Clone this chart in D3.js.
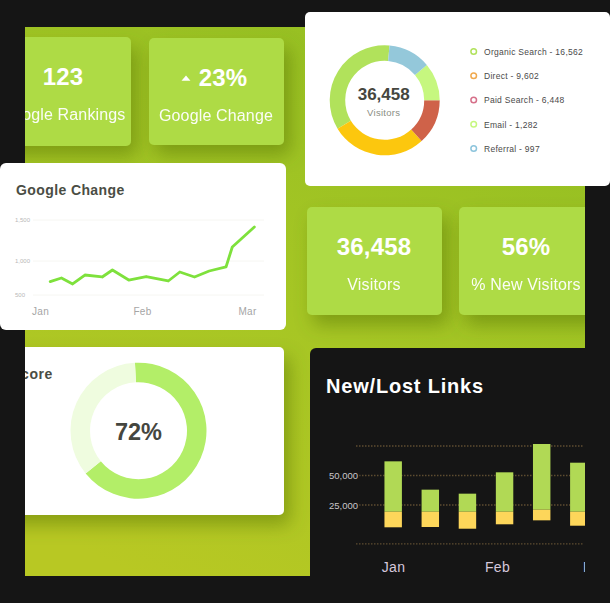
<!DOCTYPE html>
<html><head><meta charset="utf-8">
<script src="https://cdnjs.cloudflare.com/ajax/libs/d3/7.8.5/d3.min.js"></script>
<style>
html,body{margin:0;padding:0;background:#151515;overflow:hidden}
svg{display:block}
text{font-family:"Liberation Sans",Arial,sans-serif}
.axis path{display:none}
</style></head><body>
<svg id="c" width="610" height="603"></svg>
<script>
// ---- data ----
const kpiValues = ["123","23%","36,458","56%"];
const kpiLabels = ["Google Rankings","Google Change","Visitors","% New Visitors"];

const trafficSources = ["Organic Search","Direct","Paid Search","Email","Referral"];
const trafficLegendValues = ["16,562","9,602","6,448","1,282","997"];
const trafficSliceShares = [35,28.1,13.3,11.1,12.5];
const trafficColors = ["#b1e25b","#fcc70e","#cf6249","#c6f77f","#94c8da"];
const trafficRingColors = ["#b1e25b","#f0a94e","#d6708a","#c6f77f","#8cc4dc"];

const changeDay = [0.1,0.21,0.32,0.44,0.61,0.71,0.87,1.04,1.25,1.36,1.5,1.64,1.8,1.86,2.07];
const changeValue = [696,750,662,794,765,868,720,772,706,838,765,853,912,1171,1415];
const changeTicks = [500,1000,1500];
const changeMonths = ["Jan","Feb","Mar"];

const scoreLabel = "72%";
const scoreSliceShare = [65,35];

const linkWeeks = ["w1","w2","w3","w4","w5","w6"];
const linkTop = [62000,38000,34600,52700,76700,60850];
const linkMid = [19300,19300,19300,19300,21000,19300];
const linkBottom = [6100,6350,4900,8650,12000,7450];
const linkGrid = [-8000,25000,50000,75000];
const linkTickValues = [25000,50000];
const linkMonths = ["Jan","Feb","Mar"];

// ---- canvas ----
const svg = d3.select("#c");
const defs = svg.append("defs");
const g = defs.append("linearGradient").attr("id","panel").attr("x1",0.7).attr("y1",0).attr("x2",0.2).attr("y2",1);
g.append("stop").attr("offset",0).attr("stop-color","#95bf22");
g.append("stop").attr("offset",0.5).attr("stop-color","#a6c624");
g.append("stop").attr("offset",1).attr("stop-color","#b8c823");
const f = defs.append("filter").attr("id","sh").attr("x","-30%").attr("y","-30%").attr("width","170%").attr("height","170%");
f.append("feDropShadow").attr("dx",6).attr("dy",10).attr("stdDeviation",9).attr("flood-color","#4d6a10").attr("flood-opacity",0.45);
const clip = (id,x,y,w,h)=>defs.append("clipPath").attr("id",id).append("rect").attr("x",x).attr("y",y).attr("width",w).attr("height",h);
clip("panelClip",25,27,560,549);
clip("barClip",310,348,275,255);

svg.append("rect").attr("width",610).attr("height",603).attr("fill","#151515");
const panel = svg.append("g").attr("clip-path","url(#panelClip)");
panel.append("rect").attr("x",25).attr("y",27).attr("width",560).attr("height",549).attr("fill","url(#panel)");

// ---- KPI tiles ----
const tiles = [
 {x:-20,y:37,w:151,h:109,cx:63},
 {x:149,y:38,w:135,h:107,cx:216},
 {x:307,y:207,w:135,h:108,cx:374},
 {x:459,y:207,w:160,h:108,cx:526}
];
tiles.forEach((t,i)=>{
  panel.append("rect").attr("x",t.x).attr("y",t.y).attr("width",t.w).attr("height",t.h).attr("rx",5)
    .attr("fill","#aedb45").attr("filter","url(#sh)");
  const vx = i===1 ? 223 : t.cx;
  panel.append("text").attr("x",vx).attr("y",t.y+48).attr("text-anchor","middle")
    .attr("fill","#fff").attr("font-size",24).attr("font-weight","bold").attr("letter-spacing",0.2).text(kpiValues[i]);
  panel.append("text").attr("x",t.cx).attr("y",t.y+83).attr("text-anchor","middle")
    .attr("fill","#fff").attr("font-size",16).attr("letter-spacing",0.15).attr("opacity",0.95).text(kpiLabels[i]);
});
panel.append("path").attr("d",d3.symbol(d3.symbolTriangle,26)()).attr("transform","translate(186,79) scale(1.15,.8)").attr("fill","#fff");

// ---- white score card ----
panel.append("rect").attr("x",-10).attr("y",347).attr("width",294).attr("height",168).attr("rx",5).attr("fill","#fff").attr("filter","url(#sh)");
panel.append("text").attr("x",53).attr("y",379).attr("text-anchor","end").attr("font-size",14).attr("font-weight","bold")
  .attr("letter-spacing",0.6).attr("fill","#4a4d44").text("Score");
const scoreG = panel.append("g").attr("transform","translate(138.5,430.7)");
const scoreArc = d3.arc().innerRadius(48.5).outerRadius(68);
const scorePie = d3.pie().sort(null).startAngle(-3*Math.PI/180).endAngle(2*Math.PI-3*Math.PI/180);
scoreG.selectAll("path").data(scorePie(scoreSliceShare)).join("path")
  .attr("d",scoreArc).attr("fill",(d,i)=>["#b3ee68","#effcdf"][i]);
scoreG.append("text").attr("y",9).attr("text-anchor","middle").attr("font-size",23.5).attr("font-weight","bold").attr("fill","#45463f").text(scoreLabel);

// ---- dark links card ----
svg.append("rect").attr("x",310).attr("y",348).attr("width",310).attr("height",270).attr("rx",6).attr("fill","#151515");
const bars = svg.append("g").attr("clip-path","url(#barClip)");
bars.append("text").attr("x",326).attr("y",393).attr("font-size",20).attr("font-weight","bold").attr("letter-spacing",0.8).attr("fill","#fff").text("New/Lost Links");

const yLinks = d3.scaleLinear().domain([25000,50000]).range([505,475.5]);
const xLinks = d3.scaleBand().domain(linkWeeks).range([374.8,597.2]).paddingInner(0.53).paddingOuter(0.26);
const xLinkMonths = d3.scaleOrdinal().domain(linkMonths).range([393,497,595]);

bars.append("g").selectAll("line").data(linkGrid).join("line")
  .attr("x1",356).attr("x2",584).attr("y1",d=>yLinks(d)).attr("y2",d=>yLinks(d))
  .attr("stroke","#5d4c30").attr("stroke-width",1.3).attr("stroke-dasharray","1.5 1.5");

const ya = bars.append("g").attr("class","axis").attr("transform","translate(358,0)")
  .call(d3.axisLeft(yLinks).tickValues(linkTickValues).tickSize(0).tickPadding(0).tickFormat(d3.format(",")));
ya.selectAll("text").attr("font-size",9.5).attr("fill","#c9c5c9").style("paint-order","stroke").attr("stroke","#151515").attr("stroke-width",3);

bars.selectAll("rect.new").data(linkWeeks).join("rect").attr("class","new")
  .attr("x",d=>xLinks(d)).attr("width",xLinks.bandwidth())
  .attr("y",(d,i)=>yLinks(linkTop[i])).attr("height",(d,i)=>yLinks(linkMid[i])-yLinks(linkTop[i])).attr("fill","#b1d955");
bars.selectAll("rect.lost").data(linkWeeks).join("rect").attr("class","lost")
  .attr("x",d=>xLinks(d)).attr("width",xLinks.bandwidth())
  .attr("y",(d,i)=>yLinks(linkMid[i])).attr("height",(d,i)=>yLinks(linkBottom[i])-yLinks(linkMid[i])).attr("fill","#fdd65a");

const xa = bars.append("g").attr("class","axis").attr("transform","translate(0,562)")
  .call(d3.axisBottom(xLinkMonths).tickSize(0).tickPadding(0));
xa.selectAll("text").attr("font-size",14).attr("letter-spacing",0.3).attr("fill","#d5c8dc");

// ---- line card ----
svg.append("rect").attr("x",0).attr("y",163).attr("width",286).attr("height",167).attr("rx",6).attr("fill","#fff");
svg.append("text").attr("x",16).attr("y",195).attr("font-size",14).attr("font-weight","bold").attr("letter-spacing",0.4).attr("fill","#4a4d44").text("Google Change");
const xLine = d3.scaleLinear().domain([0,1,2]).range([40,142,247]);
const yLine = d3.scaleLinear().domain(changeTicks).range([295,261,220]);
svg.append("g").selectAll("line").data(changeTicks).join("line")
  .attr("x1",33).attr("x2",264).attr("y1",d=>yLine(d)).attr("y2",d=>yLine(d)).attr("stroke","#f6f6f2").attr("stroke-width",1);
const yl = svg.append("g").attr("class","axis").attr("transform","translate(15,0)")
  .call(d3.axisRight(yLine).tickValues(changeTicks).tickSize(0).tickPadding(0).tickFormat(d3.format(",")));
yl.selectAll("text").attr("font-size",6).attr("fill","#b8b8b8");
const xl = svg.append("g").attr("class","axis").attr("transform","translate(0,308)")
  .call(d3.axisBottom(xLine).tickValues([0,1,2]).tickSize(0).tickPadding(0).tickFormat(i=>changeMonths[i]));
xl.selectAll("text").attr("font-size",10).attr("letter-spacing",0.3).attr("fill","#a5a5a5");
svg.append("path").datum(changeDay.map((d,i)=>[d,changeValue[i]]))
  .attr("fill","none").attr("stroke","#7ee13c").attr("stroke-width",2.8).attr("stroke-linejoin","round").attr("stroke-linecap","round")
  .attr("d",d3.line().x(d=>xLine(d[0])).y(d=>yLine(d[1])));

// ---- visitors donut card ----
svg.append("rect").attr("x",305).attr("y",12).attr("width",305).attr("height",174).attr("rx",5).attr("fill","#fff");
const dG = svg.append("g").attr("transform","translate(384.7,100.3)");
const dPie = d3.pie().sort(null).startAngle(5*Math.PI/180+2*Math.PI).endAngle(5*Math.PI/180);
dG.selectAll("path").data(dPie(trafficSliceShares)).join("path")
  .attr("d",d3.arc().innerRadius(39.5).outerRadius(55)).attr("fill",(d,i)=>trafficColors[i]);
dG.append("text").attr("x",-1).attr("y",0).attr("text-anchor","middle").attr("font-size",17).attr("font-weight","bold").attr("fill","#45463f").text(kpiValues[2]);
dG.append("text").attr("x",-1).attr("y",16).attr("text-anchor","middle").attr("font-size",9.5).attr("letter-spacing",0.3).attr("fill","#8a8d84").text(kpiLabels[2]);

const yLegend = d3.scalePoint().domain(trafficSources).range([51.5,148.5]);
const leg = svg.append("g").selectAll("g").data(trafficSources).join("g").attr("transform",d=>`translate(473.7,${yLegend(d)})`);
leg.append("circle").attr("r",2.8).attr("fill","#fff").attr("stroke-width",1.5).attr("stroke",(d,i)=>trafficRingColors[i]);
leg.append("text").attr("x",10.3).attr("y",3.3).attr("font-size",8.5).attr("letter-spacing",0.28).attr("fill","#4a4a4a")
  .text((d,i)=>`${d} - ${trafficLegendValues[i]}`);
</script>
</body></html>
